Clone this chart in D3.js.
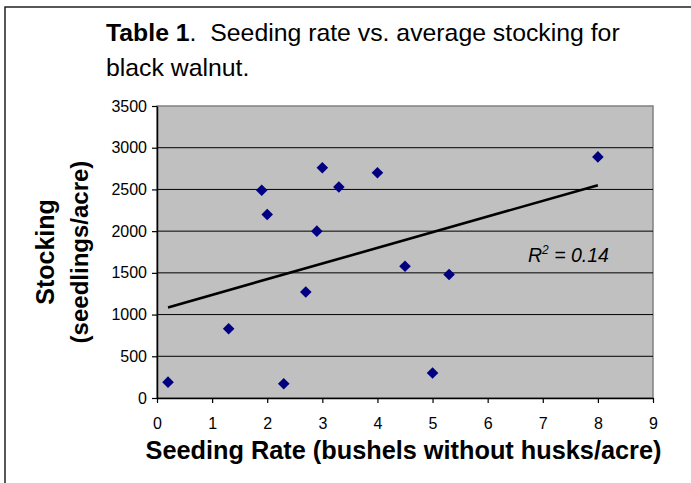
<!DOCTYPE html>
<html>
<head>
<meta charset="utf-8">
<script src="https://cdn.jsdelivr.net/npm/d3@7"></script>
<style>
  body { margin: 0; background: #fff; }
  text { font-family: "Liberation Sans", Arial, sans-serif; white-space: pre; }
</style>
</head>
<body>
<div id="chart"></div>
<script>
// seeding rate (bushels/acre) and stocking (seedlings/acre)
var seedRate = [0.2, 1.3, 1.9, 2.0, 2.3, 2.7, 2.9, 3.0, 3.3, 4.0, 4.5, 5.0, 5.3, 8.0];
var stocking = [190, 830, 2490, 2200, 170, 1270, 2000, 2760, 2530, 2700, 1580, 300, 1480, 2890];
var xTicks = [0, 1, 2, 3, 4, 5, 6, 7, 8, 9];
var yTicks = [0, 500, 1000, 1500, 2000, 2500, 3000, 3500];
var rSquared = "0.14";

var width = 691, height = 483;
var plotLeft = 157, plotRight = 653, plotTop = 106, plotBottom = 398;

var svg = d3.select("#chart").append("svg")
  .attr("width", width)
  .attr("height", height);

// outer frame (runs off the right and bottom)
svg.append("rect")
  .attr("x", 5).attr("y", 7)
  .attr("width", 720).attr("height", 520)
  .attr("fill", "none")
  .attr("stroke", "#222")
  .attr("stroke-width", 1.5);

// title
var title = svg.append("text").attr("x", 106).attr("y", 41).style("font-size", "24.8px");
title.append("tspan").style("font-weight", "bold").text("Table 1");
title.append("tspan").text(".  Seeding rate vs. average stocking for");
svg.append("text").attr("x", 106).attr("y", 76).style("font-size", "24.8px").text("black walnut.");

var x = d3.scaleLinear().domain([0, 9]).range([plotLeft, plotRight]);
var y = d3.scaleLinear().domain([0, 3500]).range([plotBottom, plotTop]);

// plot area
svg.append("rect")
  .attr("x", plotLeft).attr("y", plotTop)
  .attr("width", plotRight - plotLeft).attr("height", plotBottom - plotTop)
  .attr("fill", "#c0c0c0")
  .attr("stroke", "#808080")
  .attr("stroke-width", 1.5);

// gridlines
svg.append("g").selectAll("line")
  .data(yTicks.filter(function(d) { return d > 0 && d < 3500; }))
  .enter().append("line")
  .attr("x1", plotLeft).attr("x2", plotRight)
  .attr("y1", function(d) { return y(d); })
  .attr("y2", function(d) { return y(d); })
  .attr("stroke", "#000")
  .attr("stroke-width", 1);

// axes
var yAxis = svg.append("g")
  .attr("transform", "translate(" + plotLeft + ",0)")
  .call(d3.axisLeft(y).tickValues(yTicks).tickFormat(d3.format("d"))
    .tickSize(5).tickPadding(5).tickSizeOuter(0));
var xAxis = svg.append("g")
  .attr("transform", "translate(0," + plotBottom + ")")
  .call(d3.axisBottom(x).tickValues(xTicks).tickFormat(d3.format("d"))
    .tickSize(5).tickPadding(15).tickSizeOuter(0));

[xAxis, yAxis].forEach(function(a) {
  a.attr("font-size", null).attr("font-family", null);
  a.select(".domain").attr("stroke", "#000").attr("stroke-width", 1.5);
  a.selectAll(".tick line").attr("stroke", "#000").attr("stroke-width", 1.2);
  a.selectAll(".tick text")
    .attr("fill", "#000")
    .style("font-size", "16px");
});

// axis titles
svg.append("text")
  .attr("x", (145 + 662) / 2).attr("y", 459)
  .attr("text-anchor", "middle")
  .style("font-size", "25.3px").style("font-weight", "bold")
  .text("Seeding Rate (bushels without husks/acre)");

svg.append("text")
  .attr("transform", "translate(54,252) rotate(-90)")
  .attr("text-anchor", "middle")
  .style("font-size", "25px").style("font-weight", "bold")
  .text("Stocking");
svg.append("text")
  .attr("transform", "translate(88,252) rotate(-90)")
  .attr("text-anchor", "middle")
  .style("font-size", "24px").style("font-weight", "bold")
  .text("(seedlings/acre)");

// linear trendline (least squares)
var mx = d3.mean(seedRate), my = d3.mean(stocking);
var sxy = d3.sum(seedRate, function(d, i) { return (d - mx) * (stocking[i] - my); });
var sxx = d3.sum(seedRate, function(d) { return (d - mx) * (d - mx); });
var slope = sxy / sxx, intercept = my - slope * mx;
var ext = d3.extent(seedRate);
svg.append("line")
  .attr("x1", x(ext[0])).attr("y1", y(intercept + slope * ext[0]))
  .attr("x2", x(ext[1])).attr("y2", y(intercept + slope * ext[1]))
  .attr("stroke", "#000")
  .attr("stroke-width", 2.6);

// points
svg.append("g").selectAll("path")
  .data(seedRate)
  .enter().append("path")
  .attr("d", "M0,-5.8L5.8,0L0,5.8L-5.8,0Z")
  .attr("transform", function(d, i) { return "translate(" + x(d) + "," + y(stocking[i]) + ")"; })
  .attr("fill", "#000080");

// R squared label
var rl = svg.append("text").attr("x", 528).attr("y", 262)
  .style("font-size", "19.5px").style("font-style", "italic");
rl.append("tspan").text("R");
rl.append("tspan").attr("dy", -8).style("font-size", "12px").text("2");
rl.append("tspan").attr("dy", 8).text(" = " + rSquared);
</script>
</body>
</html>
